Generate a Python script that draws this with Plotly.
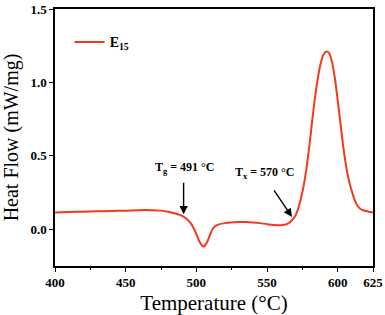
import plotly.graph_objects as go

temperature = [400, 410, 420, 430, 440, 450, 460, 465, 470, 475, 480, 485, 490, 493, 496, 499,
               502, 504, 505, 506, 508, 510, 512, 515, 520, 525, 530, 535, 540, 545, 550, 555,
               560, 564, 567, 570, 572, 574, 576, 578, 580, 582, 584, 586, 588, 590, 592, 594,
               596, 598, 600, 602, 604, 606, 608, 610, 612, 614, 616, 618, 620, 622, 625]
heat_flow = [0.115, 0.118, 0.120, 0.122, 0.125, 0.127, 0.130, 0.132, 0.130, 0.127, 0.120, 0.108,
             0.092, 0.072, 0.042, -0.010, -0.080, -0.110, -0.118, -0.112, -0.080, -0.030, 0.010,
             0.030, 0.042, 0.047, 0.049, 0.050, 0.047, 0.042, 0.035, 0.030, 0.028, 0.035, 0.055,
             0.090, 0.140, 0.210, 0.300, 0.420, 0.570, 0.740, 0.900, 1.030, 1.130, 1.190, 1.210,
             1.200, 1.140, 1.030, 0.880, 0.720, 0.560, 0.430, 0.330, 0.260, 0.200, 0.160, 0.140,
             0.130, 0.125, 0.120, 0.115]
x_ticks = [400, 450, 500, 550, 600, 625]
y_ticks = [0.0, 0.5, 1.0, 1.5]
series_name = "<b>E<sub>15</sub></b>"

serif = "Liberation Serif, Times New Roman, serif"
red = "#f23a1c"

fig = go.Figure()
fig.add_trace(go.Scatter(x=temperature, y=heat_flow, mode="lines", name=series_name,
                         line=dict(color=red, width=2, shape="spline", smoothing=0.6)))

axis_common = dict(showline=True, linecolor="black", linewidth=1.5, mirror=True,
                   ticks="outside", ticklen=4, tickwidth=1.2, tickcolor="black",
                   showgrid=False, zeroline=False, automargin=False,
                   tickfont=dict(family=serif, size=13, color="black"))

fig.update_xaxes(range=[400, 625], tickvals=x_ticks,
                 ticktext=["<b>%d</b>" % v for v in x_ticks],
                 minor=dict(dtick=25, tick0=400, ticks="outside", ticklen=2, tickcolor="black"),
                 title=dict(text="Temperature (°C)", font=dict(family=serif, size=21, color="black"),
                            standoff=6),
                 **axis_common)
fig.update_yaxes(range=[-0.25, 1.5], tickvals=y_ticks,
                 ticktext=["<b>%.1f</b>" % v for v in y_ticks],
                 title=dict(text="Heat Flow (mW/mg)", font=dict(family=serif, size=20, color="black"),
                            standoff=12),
                 **axis_common)

fig.add_annotation(x=491, y=0.102, ax=0, ay=-33, xref="x", yref="y", text="",
                   showarrow=True, arrowhead=2, arrowsize=1.2, arrowwidth=1.4, arrowcolor="black")
fig.add_annotation(x=567.7, y=0.084, ax=-19, ay=-28, xref="x", yref="y", text="",
                   showarrow=True, arrowhead=2, arrowsize=1.2, arrowwidth=1.4, arrowcolor="black")
fig.add_annotation(x=492, y=0.42, xref="x", yref="y", showarrow=False,
                   text="<b>T<sub>g</sub> = 491 °C</b>",
                   font=dict(family=serif, size=12, color="black"))
fig.add_annotation(x=548.6, y=0.383, xref="x", yref="y", showarrow=False,
                   text="<b>T<sub>x</sub> = 570 °C</b>",
                   font=dict(family=serif, size=12, color="black"))

fig.update_layout(width=385, height=315, margin=dict(l=55, r=12, t=9, b=49, autoexpand=False),
                  plot_bgcolor="white", paper_bgcolor="white", showlegend=True,
                  legend=dict(x=0.046, y=0.87, xanchor="left", yanchor="middle",
                              bgcolor="rgba(0,0,0,0)",
                              font=dict(family=serif, size=14, color="black")))

fig.write_html("out.html", config={"displayModeBar": False},
               post_script="document.body.style.margin='0';document.body.style.overflow='hidden';")
